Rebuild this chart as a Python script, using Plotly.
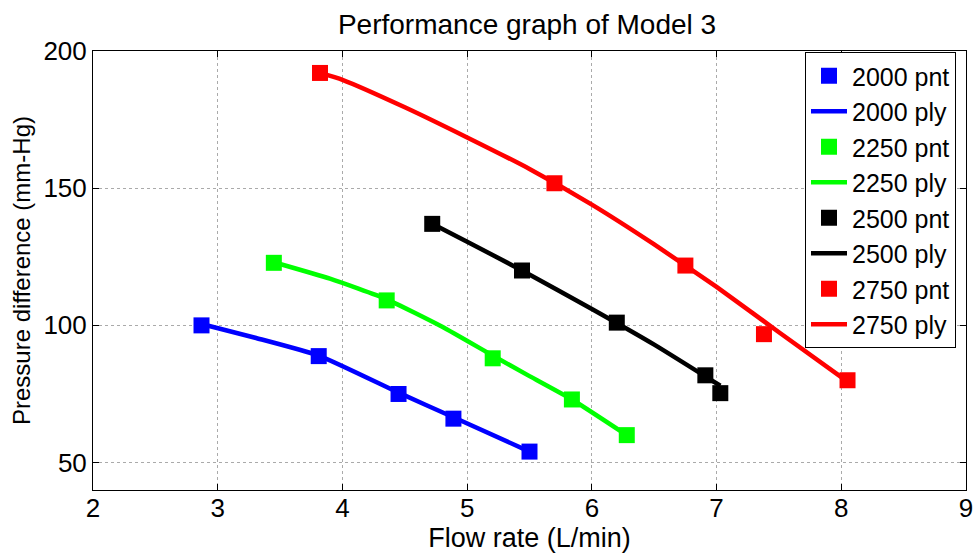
import plotly.graph_objects as go

# Measured points (pnt)
x2000 = [2.87, 3.81, 4.45, 4.89, 5.50]
y2000 = [100.0, 88.8, 75.0, 66.0, 54.0]
x2250 = [3.45, 4.355, 5.205, 5.84, 6.28]
y2250 = [122.8, 109.1, 88.0, 73.0, 60.0]
x2500 = [4.72, 5.44, 6.20, 6.91, 7.03]
y2500 = [137.0, 120.0, 101.0, 81.8, 75.3]
x2750 = [3.82, 5.70, 6.75, 7.38, 8.05]
y2750 = [192.0, 151.8, 121.8, 96.8, 80.0]

# Polynomial fit curves (ply)
px2000 = [2.87, 3.3, 3.81, 4.45, 4.89, 5.50]
py2000 = [100.5, 95.5, 89.0, 75.5, 66.5, 54.0]
px2250 = [3.45, 3.9, 4.355, 4.8, 5.205, 5.5, 5.84, 6.28]
py2250 = [123.0, 117.0, 109.5, 99.5, 89.0, 81.5, 73.0, 60.0]
px2500 = [4.72, 5.0, 5.44, 6.0, 6.5, 7.03]
py2500 = [137.0, 130.5, 120.0, 106.0, 93.0, 78.0]
px2750 = [3.82, 4.0, 4.5, 5.0, 5.5, 6.0, 6.5, 7.0, 7.5, 8.05]
py2750 = [192.0, 189.5, 179.5, 168.5, 157.0, 144.0, 129.5, 114.0, 97.5, 79.5]

series = [
    ("2000", x2000, y2000, px2000, py2000, "#0000FF"),
    ("2250", x2250, y2250, px2250, py2250, "#00FF00"),
    ("2500", x2500, y2500, px2500, py2500, "#000000"),
    ("2750", x2750, y2750, px2750, py2750, "#FF0000"),
]

FONT = "Liberation Sans, Arial, sans-serif"
fig = go.Figure()
for name, xs, ys, pxs, pys, col in series:
    fig.add_trace(go.Scatter(x=xs, y=ys, mode="markers", name=f"{name} pnt",
                             marker=dict(symbol="square", size=16, color=col)))
    fig.add_trace(go.Scatter(x=pxs, y=pys, mode="lines", name=f"{name} ply",
                             line=dict(color=col, width=4.5, shape="spline", smoothing=0.5)))

axis_common = dict(
    showline=True, linecolor="black", linewidth=1, mirror="ticks",
    ticks="inside", ticklen=6, tickcolor="black",
    showgrid=True, gridcolor="#aaaaaa", gridwidth=1, griddash="dot",
    zeroline=False, tickfont=dict(family=FONT, size=26, color="black"),
)

fig.update_layout(
    width=976, height=559,
    margin=dict(l=93, r=10, t=51, b=69, autoexpand=False),
    paper_bgcolor="white", plot_bgcolor="white",
    title=dict(text="Performance graph of Model 3", x=0.54, xanchor="center",
               y=1 - 24 / 559, yanchor="middle", yref="container",
               font=dict(family=FONT, size=28, color="black")),
    xaxis=dict(range=[2, 9], tickvals=[2, 3, 4, 5, 6, 7, 8, 9],
               ticklabelstandoff=-5,
               title=dict(text="Flow rate (L/min)", standoff=0,
                          font=dict(family=FONT, size=27, color="black")),
               **axis_common),
    yaxis=dict(range=[40, 200], tickvals=[50, 100, 150, 200],
               title=dict(text="Pressure difference (mm-Hg)", standoff=6,
                          font=dict(family=FONT, size=24, color="black")),
               **axis_common),
    legend=dict(x=(805 - 93) / 873, y=(490 - 52) / 439, xanchor="left", yanchor="top",
                bgcolor="white", bordercolor="black", borderwidth=1,
                font=dict(family=FONT, size=25, color="black"),
                itemwidth=36, tracegroupgap=0),
    showlegend=True,
)

fig.write_html("out.html")
